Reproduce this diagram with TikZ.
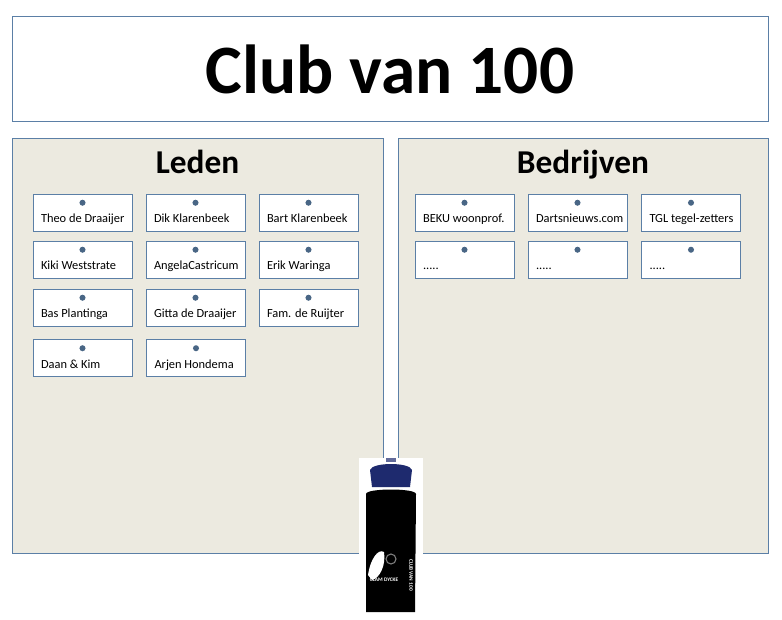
\documentclass[tikz,border=0pt]{standalone}
\usepackage{fontspec}
\setmainfont{Carlito}
\definecolor{edge}{HTML}{5B7FA6}
\definecolor{panel}{HTML}{ECEAE0}
\definecolor{capblue}{HTML}{1E2A6E}
\tikzset{
  panelbox/.style={draw=edge, fill=panel},
  heading/.style={font=\fontsize{25}{28}\selectfont\bfseries, anchor=base},
  member/.style={draw=edge, fill=white, minimum width=74.25pt, minimum height=27.75pt, inner sep=0pt},
  bullet/.style={circle, fill=edge!80!black, inner sep=1.6pt},
  membertext/.style={font=\fontsize{9.3}{11}\selectfont, anchor=base west, inner sep=0pt}
}
\newcommand{\member}[4]{% name, x, y, text
  \node[member] (#1) at (#2,#3) {};
  \node[bullet] (#1dot) at ([yshift=-6.75pt]#1.north) {};
  \node[membertext] (#1txt) at ([xshift=6pt,yshift=-7.5pt]#1.west) {#4};
}
\begin{document}
\begin{tikzpicture}[x=0.75pt,y=-0.75pt]
\useasboundingbox (0,0) rectangle (782,619);
\fill[white] (0,0) rectangle (782,619);

% Title
\draw[draw=edge] (12,16) rectangle (768,121);
\node[font=\fontsize{52}{58}\selectfont\bfseries, anchor=base] (title) at (390,93)
  {Club van 100};

% Panels
\draw[panelbox] (12,138) rectangle (383,553);
\draw[panelbox] (398,138) rectangle (768,553);
\node[heading] (leden) at (197.5,173) {Leden};
\node[heading] (bedrijven) at (583,173) {Bedrijven};

% Leden
\member{theo}{82.5}{212.5}{Theo de Draaijer}
\member{dik}{195.5}{212.5}{Dik Klarenbeek}
\member{bart}{308.5}{212.5}{Bart Klarenbeek}
\member{kiki}{82.5}{259.5}{Kiki Weststrate}
\member{angela}{195.5}{259.5}{AngelaCastricum}
\member{erik}{308.5}{259.5}{Erik Waringa}
\member{bas}{82.5}{307.5}{Bas Plantinga}
\member{gitta}{195.5}{307.5}{Gitta de Draaijer}
\member{fam}{308.5}{307.5}{Fam. de Ruijter}
\member{daan}{82.5}{358}{Daan \& Kim}
\member{arjen}{196}{358}{Arjen Hondema}

% Bedrijven
\member{beku}{464.5}{212.5}{BEKU woonprof.}
\member{darts}{577.5}{212.5}{Dartsnieuws.com}
\member{tgl}{691}{212.5}{TGL tegel-zetters}
\member{leeg1}{464.5}{259.5}{.....}
\member{leeg2}{577.5}{259.5}{.....}
\member{leeg3}{691}{259.5}{.....}

% Bidon
\fill[white] (359,458) rectangle (423,614);
\fill[capblue] (372,487) -- (370,470) .. controls (372,462) and (410,462) .. (412,470) -- (410,487) -- cycle;
\fill[capblue!70!white] (386,462) rectangle (396,458);
\fill[black] (366,494) .. controls (366,488) and (416,488) .. (416,494) -- (415,612) -- (366,612) -- cycle;
\draw[gray, line width=0.8pt] (391,559) circle (5);
\fill[white] (368,575) .. controls (370,560) and (378,548) .. (384,552) .. controls (386,565) and (380,578) .. (372,580) -- cycle;
\node[white, font=\fontsize{4}{5}\selectfont\bfseries, inner sep=0pt] (brand) at (384,580) {CLAM DYCKE};
\node[white, font=\fontsize{4}{5}\selectfont\bfseries, rotate=-90, inner sep=0pt] (clubtxt) at (411,575) {CLUB VAN 100};
\end{tikzpicture}
\end{document}
